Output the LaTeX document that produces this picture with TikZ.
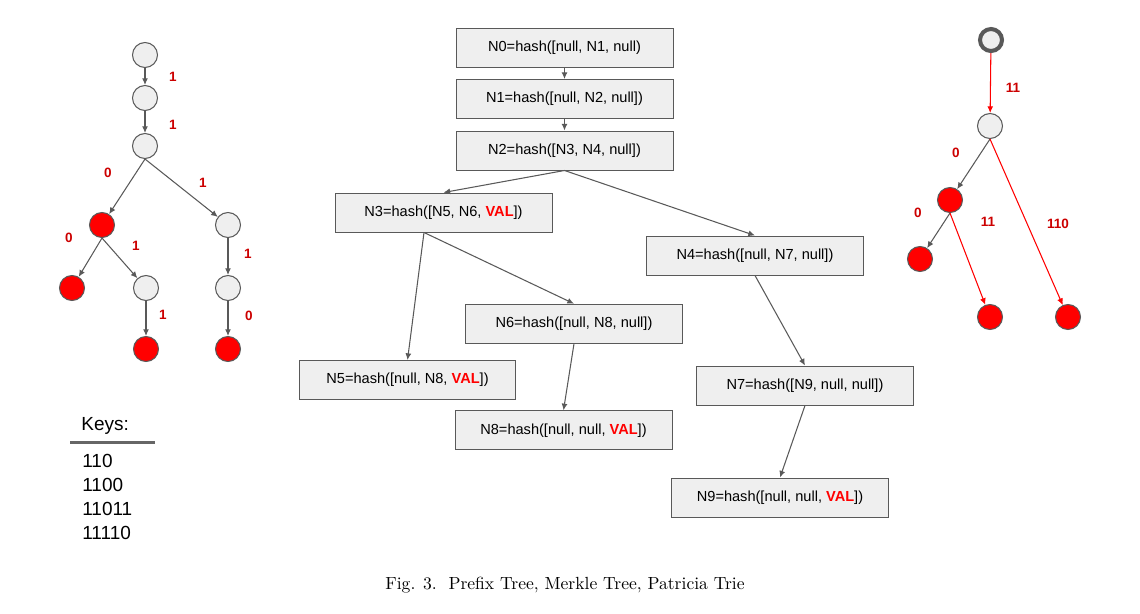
\documentclass[tikz,border=0pt]{standalone}
\usepackage{fontspec}
\setsansfont{Liberation Sans}
\usetikzlibrary{arrows.meta,calc}
\definecolor{edgegray}{HTML}{595959}
\definecolor{boxfill}{HTML}{EFEFEF}
\definecolor{lblred}{HTML}{CC0000}
\definecolor{valred}{HTML}{FF0000}
\definecolor{rulegray}{HTML}{666666}
\begin{document}
\begin{tikzpicture}[x=0.02cm,y=-0.02cm,
  every node/.style={font=\sffamily},
  hbox/.style={draw=edgegray,line width=0.55pt,fill=boxfill,minimum width=4.34cm,minimum height=0.78cm,inner sep=0pt,font=\sffamily\fontsize{8.3pt}{10pt}\selectfont},
  gnode/.style={circle,draw=edgegray,line width=0.6pt,fill=boxfill,minimum size=0.5cm,inner sep=0pt},
  rnode/.style={circle,draw=edgegray,line width=0.6pt,fill=valred,minimum size=0.5cm,inner sep=0pt},
  rootnode/.style={circle,draw=edgegray,line width=2.3pt,fill=boxfill,minimum size=0.44cm,inner sep=0pt},
  edge/.style={draw=edgegray,line width=0.6pt,-{Latex[length=3.8pt,width=3.4pt]}},
  redge/.style={draw=valred,line width=0.6pt,-{Latex[length=3.8pt,width=3.4pt]}},
  lbl/.style={text=lblred,font=\sffamily\bfseries\fontsize{7.7pt}{9pt}\selectfont,inner sep=0pt},
  keytxt/.style={anchor=west,inner sep=0pt,font=\sffamily\fontsize{10.8pt}{12pt}\selectfont}]
\useasboundingbox (0,0) rectangle (1140,613);
\newcommand{\VAL}{\textcolor{valred}{\textbf{VAL}}}

% ---------- prefix tree ----------
\node[gnode] (p1) at (145,55) {};
\node[gnode] (p2) at (145,98) {};
\node[gnode] (p3) at (145,146) {};
\node[rnode] (p4) at (102,225) {};
\node[gnode] (p5) at (228,225) {};
\node[rnode] (p6) at (72,288) {};
\node[gnode] (p7) at (146,288) {};
\node[gnode] (p8) at (228,288) {};
\node[rnode] (p9) at (146,349) {};
\node[rnode] (p10) at (228,349) {};
\draw[edge] (p1) -- (p2);
\draw[edge] (p2) -- (p3);
\draw[edge] (p3.south) -- (p4);
\draw[edge] (p3.south) -- (p5);
\draw[edge] (p4.south) -- (p6);
\draw[edge] (p4.south) -- (p7);
\draw[edge] (p5) -- (p8);
\draw[edge] (p7) -- (p9);
\draw[edge] (p8) -- (p10);
\node[lbl] (pl1) at (173,77) {1};
\node[lbl] (pl2) at (173,125) {1};
\node[lbl] (pl3) at (108,173) {0};
\node[lbl] (pl4) at (203,183) {1};
\node[lbl] (pl5) at (69,238) {0};
\node[lbl] (pl6) at (136,246) {1};
\node[lbl] (pl7) at (248,254) {1};
\node[lbl] (pl8) at (163,315) {1};
\node[lbl] (pl9) at (249,316) {0};

% ---------- keys ----------
\node[keytxt] (kh) at (81,426) {Keys:};
\coordinate (ra) at (70,442);
\coordinate (rb) at (155,442);
\draw[rulegray,line width=1.7pt] (ra) -- (rb);
\node[keytxt] (k1) at (82,461) {110};
\node[keytxt] (k2) at (82,485) {1100};
\node[keytxt] (k3) at (82,509) {11011};
\node[keytxt] (k4) at (82,533) {11110};

% ---------- merkle tree ----------
\node[hbox] (N0) at (564.5,47.5) {N0=hash([null, N1, null)};
\node[hbox] (N1) at (564.5,99) {N1=hash([null, N2, null])};
\node[hbox] (N2) at (564.5,150.5) {N2=hash([N3, N4, null])};
\node[hbox] (N3) at (443.5,212.5) {N3=hash([N5, N6, \VAL])};
\node[hbox] (N4) at (755,255.5) {N4=hash([null, N7, null])};
\node[hbox] (N5) at (407.5,380) {N5=hash([null, N8, \VAL])};
\node[hbox] (N6) at (574,323.7) {N6=hash([null, N8, null])};
\node[hbox] (N8) at (563.5,430.3) {N8=hash([null, null, \VAL])};
\node[hbox] (N7) at (805,385.5) {N7=hash([N9, null, null])};
\node[hbox] (N9) at (780,497.5) {N9=hash([null, null, \VAL])};
\coordinate (N3out) at ([xshift=-0.39cm]N3.south);
\draw[edge] (N0.south) -- (N1.north);
\draw[edge] (N1.south) -- (N2.north);
\draw[edge] (N2.south) -- (N3.north);
\draw[edge] (N2.south) -- (N4.north);
\draw[edge] (N3out) -- (N5.north);
\draw[edge] (N3out) -- (N6.north);
\draw[edge] (N6.south) -- (N8.north);
\draw[edge] (N4.south) -- (N7.north);
\draw[edge] (N7.south) -- (N9.north);

% ---------- patricia trie ----------
\node[rootnode] (t0) at (991,40) {};
\node[gnode] (t1) at (990,126) {};
\node[rnode] (t2) at (950,200) {};
\node[rnode] (t3) at (920,259) {};
\node[rnode] (t4) at (990,317) {};
\node[rnode] (t5) at (1068,317) {};
\draw[redge] (t0) -- (t1);
\draw[edge] (t1.south) -- (t2);
\draw[redge] (t1.south) -- (t5);
\draw[edge] (t2.south) -- (t3);
\draw[redge] (t2.south) -- (t4);
\node[lbl] (tl1) at (1013,88) {11};
\node[lbl] (tl2) at (956,153) {0};
\node[lbl] (tl3) at (918,213) {0};
\node[lbl] (tl4) at (988,222) {11};
\node[lbl] (tl5) at (1058,224) {110};

% ---------- caption ----------
\node[font=\rmfamily\fontsize{10pt}{12pt}\selectfont,inner sep=0pt] (cap) at (565,585) {Fig. 3.\ \ Prefix Tree, Merkle Tree, Patricia Trie};
\end{tikzpicture}
\end{document}
